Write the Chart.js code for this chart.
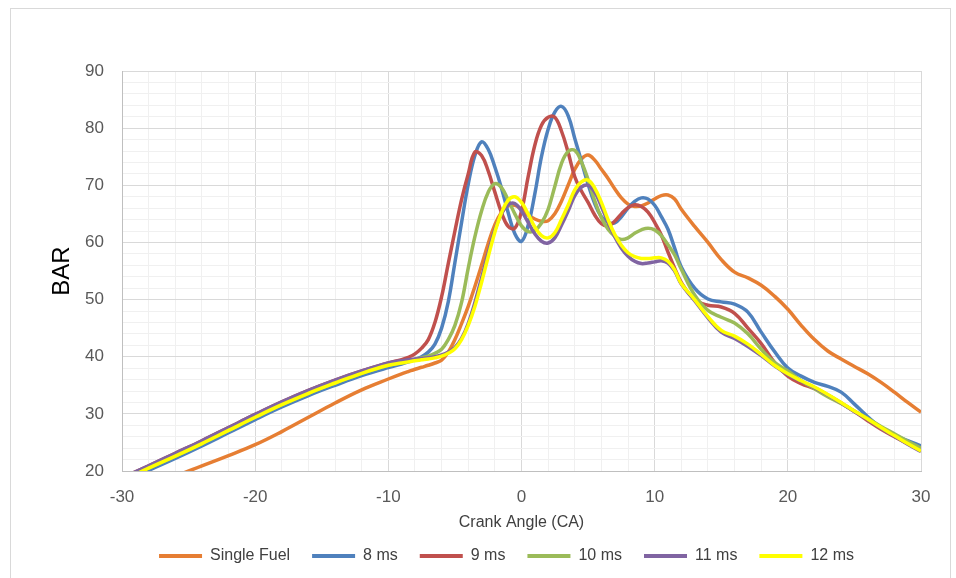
<!DOCTYPE html>
<html>

<head>
    <title>Cylinder Pressure</title>
    <script src="https://cdn.jsdelivr.net/npm/chart.js"></script>
    <style>
        body { margin: 0; background: #FFFFFF; }
        .frame {
            position: absolute; left: 10px; top: 8px;
            width: 939px; height: 600px;
            border: 1px solid #D9D9D9;
        }
        #pressureChart { position: absolute; left: 0; top: 0; }
    </style>
</head>

<body>
    <div class="frame"></div>
    <canvas id="pressureChart" width="956" height="578"></canvas>
<script>
    // crank angle (CA) - finer steps around combustion
    var angles = [-30, -28, -26, -24, -22, -20, -18, -16, -14, -12, -10, -9, -8.5, -8, -7.5,
        -7, -6.5, -6, -5.5, -5, -4.5, -4, -3.5, -3, -2.5, -2, -1.5, -1, -0.5, 0, 0.5, 1, 1.5, 2, 2.5, 3, 3.5,
        4, 4.5, 5, 5.5, 6, 6.5, 7, 7.5, 8, 8.5, 9, 9.5, 10, 10.5, 11, 11.5, 12,
        13, 14, 15, 16, 17, 18, 19, 20, 21, 22, 23, 24, 25, 26, 27, 28, 29, 30];

    // pressure (BAR)
    var singleFuel = [15.8, 17.4, 19.1, 20.9, 22.7, 24.6, 26.9, 29.4, 31.9, 34.2, 36.1, 37, 37.4, 37.8, 38.15,
        38.5, 38.9, 39.4, 40.8, 43, 45.8, 48.8, 52.3, 56, 59.8, 63.1, 65.3, 66.4, 66.5, 65.8, 64.8, 64.1, 63.7, 63.8, 65, 67.2, 70,
        72.8, 74.6, 75.3, 74.4, 72.8, 71.2, 69.4, 67.8, 66.7, 66.3, 66.4, 66.9, 67.6, 68.2, 68.3, 67.6, 65.8,
        62.8, 60, 57, 54.8, 53.8, 52.5, 50.6, 48.3, 45.5, 43, 41, 39.6, 38.3, 37, 35.5, 33.8, 32, 30.3];
    var ms8 = [17.9, 20.1, 22.2, 24.4, 26.7, 29, 31.2, 33.2, 35, 36.7, 38.1, 38.7, 39.1, 39.5, 40,
        40.8, 42.2, 45, 49.6, 56.5, 63.5, 70.2, 75.2, 77.6, 76.3, 73.2, 69.5, 65.2, 61.5, 60.2, 63, 68.5, 75, 79.8, 82.8, 83.8, 82.2,
        78.2, 74.2, 70.2, 66.8, 64.5, 63.5, 63.4, 64.5, 66, 67.2, 67.8, 67.6, 66.5, 64.5, 62.3, 59, 55.7,
        52, 50.1, 49.6, 49.2, 47.8, 44.3, 40.9, 38, 36.6, 35.5, 34.8, 33.8, 31.7, 29.5, 27.6, 26.3, 25.3, 24.4];
    var ms9 = [18.8, 20.9, 23.1, 25.3, 27.6, 29.9, 32.1, 34.1, 35.9, 37.5, 38.9, 39.5, 39.9, 40.5, 41.5,
        43, 46, 50.5, 56.3, 62, 67.5, 72, 75.8, 75.2, 72.5, 68.8, 65.2, 62.8, 62.5, 65.5, 71.5, 77, 80.5, 81.9, 81.9, 79.5, 75.8,
        71.5, 69, 67, 64.8, 63.3, 62.9, 63.7, 65, 66.1, 66.6, 66.3, 65.3, 63.5, 61.3, 58.3, 55.5, 53,
        50, 49, 48.7, 47.6, 45, 42.3, 39, 36.6, 35.3, 34.4, 33.3, 31.9, 30.4, 28.8, 27.3, 26, 24.8, 23.6];
    var ms10 = [18.3, 20.5, 22.6, 24.8, 27.1, 29.4, 31.6, 33.6, 35.4, 37.1, 38.5, 39, 39.25, 39.5, 39.8,
        40.1, 40.6, 41.3, 43, 45.5, 49.5, 55.5, 61, 65.5, 68.8, 70.3, 69.6, 67.4, 65, 62.9, 61.9, 62.1, 63.4, 65.8, 69.8, 73.8, 75.9,
        76.1, 74.1, 71, 67.3, 64.3, 62.3, 61.1, 60.5, 60.8, 61.6, 62.2, 62.5, 62.2, 61.2, 59.6, 57.8, 55.3,
        50.8, 48.1, 46.9, 45.9, 44, 41.3, 39, 37.5, 35.8, 34.4, 33, 31.8, 30.5, 29.2, 27.8, 26.5, 25.2, 24];
    var ms11 = [18.8, 20.9, 23.1, 25.3, 27.6, 29.9, 32.1, 34.1, 35.9, 37.5, 38.9, 39.3, 39.45, 39.6, 39.7,
        39.8, 40, 40.3, 40.8, 41.6, 43.2, 45.8, 49.5, 53.8, 58.2, 62.2, 65, 66.6, 66.8, 65.5, 63.5, 61.5, 60.2, 59.9, 60.8, 63, 65.5,
        68.2, 69.7, 70, 68.8, 66.3, 63.5, 61, 59, 57.6, 56.7, 56.3, 56.4, 56.6, 56.8, 56.4, 55, 52.7,
        49.8, 46.8, 44.3, 43.2, 41.8, 40.2, 38.4, 36.9, 35.7, 34.6, 33.3, 31.9, 30.4, 29, 27.5, 26.1, 24.7, 23.4];
    var ms12 = [18.3, 20.5, 22.6, 24.8, 27.1, 29.4, 31.6, 33.6, 35.4, 37.1, 38.5, 38.9, 39.1, 39.3, 39.45,
        39.6, 39.8, 40.1, 40.6, 41.4, 43, 45.5, 48.8, 53, 57.5, 61.8, 65.2, 67.4, 68, 67, 65, 62.7, 61.2, 60.8, 61.7, 64, 66.5,
        69.2, 70.6, 70.9, 69.5, 67, 64, 61.4, 59.5, 58.2, 57.5, 57.2, 57.2, 57.3, 57.3, 56.7, 55.2, 52.8,
        50, 47, 44.6, 43.6, 42.2, 40.4, 38.5, 37, 35.8, 34.7, 33.4, 32, 30.5, 29.1, 27.6, 26.2, 24.8, 23.5];

    var seriesNames = ["Single Fuel", "8 ms", "9 ms", "10 ms", "11 ms", "12 ms"];
    var seriesValues = [singleFuel, ms8, ms9, ms10, ms11, ms12];
    var seriesColors = ["#E67E33", "#4F81BD", "#C0504D", "#9BBB59", "#8064A2", "#FFFF00"];

    var datasets = seriesNames.map(function(name, i) {
        return {
            label: name,
            data: angles.map(function(a, j) { return { x: a, y: seriesValues[i][j] }; }),
            borderColor: seriesColors[i],
            backgroundColor: seriesColors[i],
            borderWidth: 3.5,
            pointRadius: 0,
            tension: 0.4,
            order: seriesNames.length - i   // later series on top, like excel
        };
    });

    var tickFont = { family: "'Liberation Sans', Arial, sans-serif", size: 17 };

    // move legend so it sits where the original one is
    var legendShift = {
        id: "legendShift",
        afterLayout: function(chart) {
            chart.legend.left += 24;
            chart.legend.right += 24;
        }
    };

    new Chart(document.getElementById("pressureChart").getContext("2d"), {
        type: "line",
        data: { datasets: datasets },
        plugins: [legendShift],
        options: {
            responsive: false,
            animation: false,
            devicePixelRatio: 1,
            layout: { padding: { left: 44, right: 35, top: 71, bottom: 4 } },
            plugins: {
                tooltip: { enabled: false },
                legend: {
                    position: "bottom",
                    labels: {
                        boxWidth: 43,
                        boxHeight: 4,
                        padding: 22,
                        color: "#404040",
                        font: { family: "'Liberation Sans', Arial, sans-serif", size: 16 },
                        sort: function(a, b) { return a.datasetIndex - b.datasetIndex; },
                        generateLabels: function(chart) {
                            return Chart.defaults.plugins.legend.labels.generateLabels(chart).map(function(l) {
                                l.lineWidth = 0;
                                return l;
                            });
                        }
                    }
                }
            },
            scales: {
                x: {
                    type: "linear",
                    min: -30,
                    max: 30,
                    afterFit: function(scale) { scale.height = 55; },
                    ticks: {
                        stepSize: 2,
                        autoSkip: false,
                        maxRotation: 0,
                        padding: 16,
                        color: "#595959",
                        font: tickFont,
                        callback: function(v) { return v % 10 === 0 ? v : ""; }
                    },
                    grid: {
                        drawTicks: false,
                        color: function(c) { return c.tick.value % 10 === 0 ? "#D9D9D9" : "#F0F0F0"; }
                    },
                    border: { color: "#BFBFBF" },
                    title: {
                        display: true,
                        text: "Crank Angle (CA)",
                        color: "#404040",
                        font: { family: "'Liberation Sans', Arial, sans-serif", size: 16 },
                        padding: { top: 0, bottom: -6.6 }
                    }
                },
                y: {
                    min: 20,
                    max: 90,
                    afterFit: function(scale) { scale.width = 78; },
                    ticks: {
                        stepSize: 2,
                        autoSkip: false,
                        padding: 18,
                        color: "#595959",
                        font: tickFont,
                        callback: function(v) { return v % 10 === 0 ? v : ""; }
                    },
                    grid: {
                        drawTicks: false,
                        color: function(c) { return c.tick.value % 10 === 0 ? "#D9D9D9" : "#F0F0F0"; }
                    },
                    border: { color: "#BFBFBF" },
                    title: {
                        display: true,
                        text: "BAR",
                        color: "#000000",
                        font: { family: "'Liberation Sans', Arial, sans-serif", size: 24 },
                        padding: { top: 4, bottom: 0 }
                    }
                }
            }
        }
    });
</script>
</body>

</html>
